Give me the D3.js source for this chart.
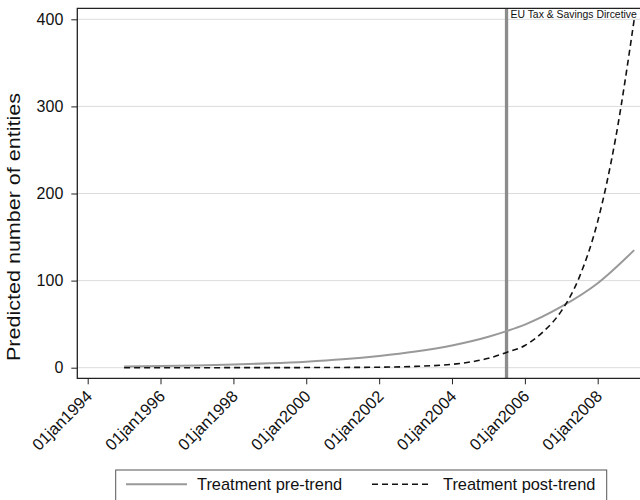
<!DOCTYPE html>
<html>
<head>
<meta charset="utf-8">
<script src="https://cdn.jsdelivr.net/npm/d3@7"></script>
<style>
  body { margin: 0; background: #fff; }
  svg { display: block; font-family: "Liberation Sans", Arial, sans-serif; }
</style>
</head>
<body>
<svg id="chart" width="640" height="500"></svg>
<script>
// decimal years
var preYears  = [1995, 1996, 1997, 1998, 1999, 2000, 2001, 2002, 2003, 2004, 2005, 2005.5, 2006, 2007, 2008, 2009];
var preValues = [1.4, 1.9, 2.6, 3.6, 5.0, 6.9, 9.6, 13.4, 18.5, 25.5, 35.5, 42, 49.5, 70, 97, 135];

var postYears  = [1995, 1996, 1997, 1998, 1999, 2000, 2001, 2002, 2003, 2004, 2004.5, 2005, 2005.5, 2006, 2006.5, 2007, 2007.5, 2008, 2008.5, 2009];
var postValues = [0, 0, 0, 0.05, 0.1, 0.15, 0.3, 0.6, 1.5, 3.9, 6.5, 10.8, 17.5, 25.5, 41, 65, 104, 168, 265, 400];

var yTicks = [0, 100, 200, 300, 400];
var tickYears = [1994, 1996, 1998, 2000, 2002, 2004, 2006, 2008];
var eventYear = 2005.5;
var eventLabel = 'EU Tax & Savings Dircetive';
var yTitle = 'Predicted number of entities';
var legendNames = ['Treatment pre-trend', 'Treatment post-trend'];

var toDate = function(y) {
  var yr = Math.floor(y);
  return new Date(yr, Math.round((y - yr) * 12), 1);
};

var svg = d3.select('#chart');

var x = d3.scaleTime()
  .domain([new Date(1994, 0, 1), new Date(2008, 0, 1)])
  .range([87.7, 597.7]);
var y = d3.scaleLinear().domain([0, 400]).range([367.7, 19.3]);

var frameLeft = 77.3, frameTop = 8.3, frameBottom = 378.3, frameRight = 660;

// gridlines
svg.append('g').selectAll('line').data(yTicks).enter().append('line')
  .attr('x1', frameLeft).attr('x2', frameRight)
  .attr('y1', function(d) { return y(d); }).attr('y2', function(d) { return y(d); })
  .style('stroke', '#dcdcdc').style('stroke-width', 1);

// event line
svg.append('line')
  .attr('x1', x(toDate(eventYear))).attr('x2', x(toDate(eventYear)))
  .attr('y1', frameTop).attr('y2', frameBottom)
  .style('stroke', '#8c8c8c').style('stroke-width', 3.3);
svg.append('text')
  .attr('x', x(toDate(eventYear)) + 4).attr('y', 18)
  .style('font-size', '10.4px').style('fill', '#111')
  .text(eventLabel);

// curves
var line = d3.line()
  .x(function(d) { return x(toDate(d[0])); })
  .y(function(d) { return y(d[1]); })
  .curve(d3.curveMonotoneX);

svg.append('path')
  .datum(preYears.map(function(d, i) { return [d, preValues[i]]; }))
  .attr('d', line)
  .style('fill', 'none').style('stroke', '#999').style('stroke-width', 2);

svg.append('path')
  .datum(postYears.map(function(d, i) { return [d, postValues[i]]; }))
  .attr('d', line)
  .style('fill', 'none').style('stroke', '#111').style('stroke-width', 1.6)
  .style('stroke-dasharray', '6,4');

// frame
svg.append('path')
  .attr('d', 'M' + frameRight + ',' + frameTop + 'H' + frameLeft + 'V' + frameBottom + 'H' + frameRight)
  .style('fill', 'none').style('stroke', '#222').style('stroke-width', 1.3);

// y axis
var yAxis = d3.axisLeft(y).tickValues(yTicks).tickSize(6).tickPadding(8);
var gy = svg.append('g').attr('transform', 'translate(' + frameLeft + ',0)').call(yAxis);
gy.select('.domain').remove();
gy.selectAll('line').style('stroke', '#222');
gy.selectAll('text').style('font-size', '16px').style('fill', '#111').attr('font-family', null);

// x axis
var fmt = d3.timeFormat('%d%b%Y');
var xAxis = d3.axisBottom(x)
  .tickValues(tickYears.map(toDate))
  .tickSize(6)
  .tickFormat(function(d) { return fmt(d).toLowerCase(); });
var gx = svg.append('g').attr('transform', 'translate(0,' + frameBottom + ')').call(xAxis);
gx.select('.domain').remove();
gx.selectAll('line').style('stroke', '#222');
gx.selectAll('text')
  .attr('font-family', null)
  .style('font-size', '16.4px').style('fill', '#111')
  .style('text-anchor', 'end')
  .attr('dy', '0.35em').attr('y', 0)
  .attr('transform', 'translate(1,15) rotate(-45)');

// y title
svg.append('text')
  .attr('transform', 'translate(19.5,227) rotate(-90)')
  .style('text-anchor', 'middle').style('font-size', '17.5px').style('fill', '#111')
  .attr('textLength', 268).attr('lengthAdjust', 'spacingAndGlyphs')
  .text(yTitle);

// legend
var lg = svg.append('g');
lg.append('rect')
  .attr('x', 115.7).attr('y', 470).attr('width', 491).attr('height', 40)
  .style('fill', '#fff').style('stroke', '#555').style('stroke-width', 1);
lg.append('line').attr('x1', 126).attr('x2', 187).attr('y1', 484.3).attr('y2', 484.3)
  .style('stroke', '#999').style('stroke-width', 2);
lg.append('text').attr('x', 197).attr('y', 484.3).attr('dy', '0.35em')
  .style('font-size', '16.4px').style('fill', '#111').text(legendNames[0]);
lg.append('line').attr('x1', 372).attr('x2', 432).attr('y1', 484.3).attr('y2', 484.3)
  .style('stroke', '#111').style('stroke-width', 1.6).style('stroke-dasharray', '6,4');
lg.append('text').attr('x', 443).attr('y', 484.3).attr('dy', '0.35em')
  .style('font-size', '16.4px').style('fill', '#111').text(legendNames[1]);
</script>
</body>
</html>
